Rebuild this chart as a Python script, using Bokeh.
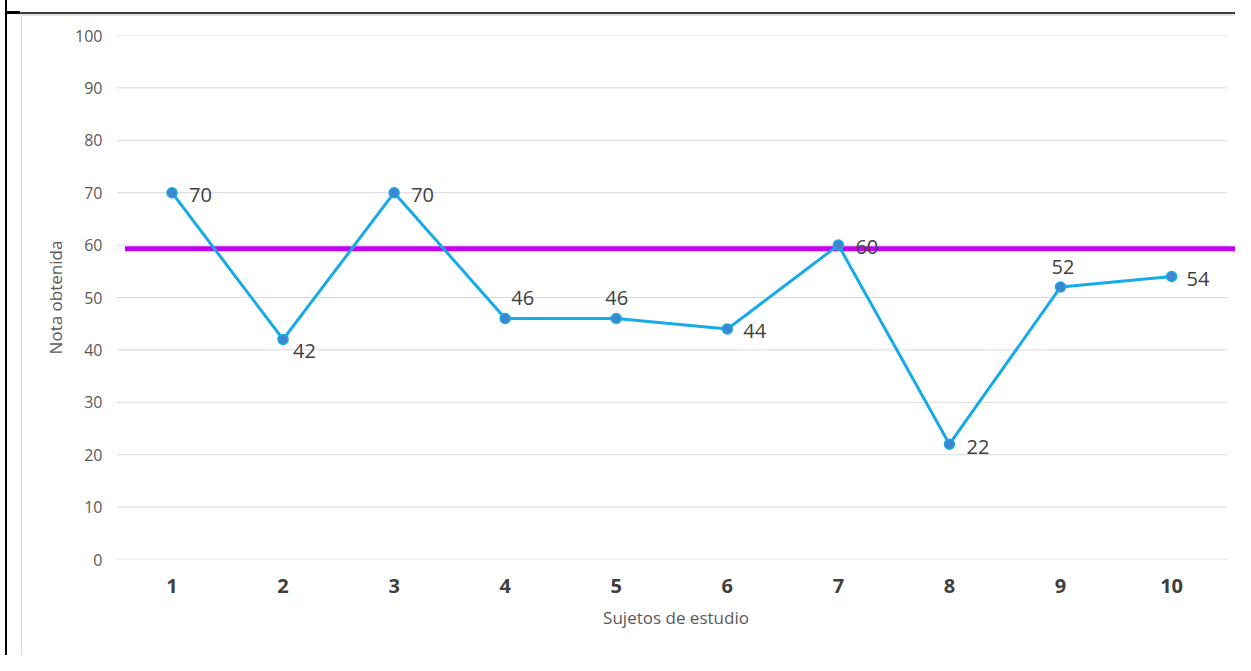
from bokeh.plotting import figure
from bokeh.models import ColumnDataSource, Range1d, FixedTicker
from bokeh.core.properties import value
from bokeh.embed import file_html
from bokeh.resources import INLINE

# ---- data ----
sujetos = [1, 2, 3, 4, 5, 6, 7, 8, 9, 10]
notas = [70, 42, 70, 46, 46, 44, 60, 22, 52, 54]
umbral = 59.3
y_ticks = [0, 10, 20, 30, 40, 50, 60, 70, 80, 90, 100]

# label placement (style, screen px)
lab_dx = [17, 10, 17, 6, -11, 16, 17, 17, -9, 15]
lab_dy = [2, 12, 2, -20, -20, 2, 2, 3, -20, 2]

FONT = "Open Sans"
W, H = 1235, 655
LEFT, TOP, BOTTOM = 116, 35, 96
STEP = 111.06  # px per category
x_end = 0.5 + (W - LEFT) / STEP

p = figure(width=W, height=H, output_backend="svg", toolbar_location=None,
           x_range=Range1d(0.5, x_end), y_range=Range1d(0, 100),
           min_border_left=LEFT, min_border_right=0, min_border_top=TOP,
           min_border_bottom=BOTTOM)
p.styles = {
    "background-color": "white",
    "background-image": ", ".join(["linear-gradient(#000,#000)"] * 2 +
                                  ["linear-gradient(#404040,#404040)",
                                   "linear-gradient(#d9d9d9,#d9d9d9)",
                                   "linear-gradient(#e3e3e3,#e3e3e3)"]),
    "background-size": "2px 100%, 14px 3px, 100% 2px, 1px 100%, 100% 2px",
    "background-position": "5px 0px, 6px 11px, 6px 12px, 21px 14px, 21px 14px",
    "background-repeat": "no-repeat",
}
p.outline_line_color = None
p.background_fill_color = "white"
p.border_fill_color = None
p.xgrid.grid_line_color = None
p.ygrid.grid_line_color = None

# horizontal gridlines spanning the category band
p.segment(x0=[0.5] * len(y_ticks), x1=[10.5] * len(y_ticks), y0=y_ticks, y1=y_ticks,
          line_color="#d9d9d9", line_width=1)

# axes
p.xaxis.ticker = FixedTicker(ticks=sujetos)
p.yaxis.ticker = FixedTicker(ticks=y_ticks)
for ax in (p.xaxis[0], p.yaxis[0]):
    ax.axis_line_color = None
    ax.major_tick_line_color = None
    ax.minor_tick_line_color = None
    ax.major_tick_out = 0
    ax.major_tick_in = 0
    ax.axis_label_text_font = FONT
    ax.major_label_text_font = FONT
    ax.axis_label_text_font_style = "normal"
    ax.axis_label_text_color = "#595959"
    ax.axis_label_text_font_size = "17px"

p.xaxis.axis_label = "Sujetos de estudio"
p.xaxis.major_label_text_font_size = "20px"
p.xaxis.major_label_text_font_style = "bold"
p.xaxis.major_label_text_color = "#404040"
p.xaxis.major_label_standoff = 19
p.xaxis.axis_label_standoff = 10

p.yaxis.axis_label = "Nota obtenida"
p.yaxis.major_label_text_font_size = "16px"
p.yaxis.major_label_text_color = "#595959"
p.yaxis.major_label_standoff = 14
p.yaxis.axis_label_standoff = 5

# threshold line
p.segment(x0=[0.576], x1=[x_end], y0=[umbral], y1=[umbral],
          line_color="#c300f2", line_width=5)

src = ColumnDataSource(dict(x=sujetos, y=notas, t=[str(v) for v in notas],
                            dx=lab_dx, dy=lab_dy))
p.line("x", "y", source=src, line_color="#16aae8", line_width=3)
p.scatter("x", "y", source=src, size=10, fill_color="#3f86cc",
          line_color="#16aae8", line_width=1.5)
p.text("x", "y", text="t", source=src, x_offset="dx", y_offset="dy",
       text_font=value(FONT), text_font_size="20px", text_color="#404040",
       text_align="left", text_baseline="middle")

open("out.html", "w").write(file_html(p, INLINE))
